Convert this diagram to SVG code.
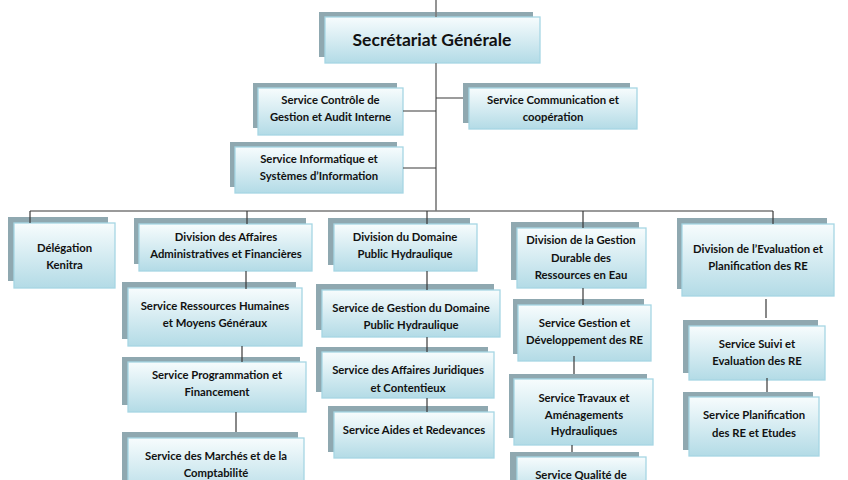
<svg xmlns="http://www.w3.org/2000/svg" width="848" height="480" viewBox="0 0 848 480">
<defs>
<linearGradient id="g" x1="0" y1="0" x2="0" y2="1">
<stop offset="0" stop-color="#f7fcfd"/>
<stop offset="1" stop-color="#b3dbe6"/>
</linearGradient>
<style>
.sh{fill:#8fa8b0}
.bx{fill:url(#g);stroke:#a6d6e4;stroke-width:1.3}
text{font-family:Lato,"Noto Sans","Liberation Sans",sans-serif;font-weight:bold;font-size:11.3px;fill:#111;text-anchor:middle}
.t{font-size:17.5px}
.c{stroke:#3a3a3a;stroke-width:1.2;fill:none}
.m{stroke:#7a7a7a;stroke-width:1.6;fill:none}
</style>
</defs>
<rect width="848" height="480" fill="#fff"/>
<g id="nodes">
<g id="sg"><rect class="sh" x="319" y="12" width="214" height="45"/><rect class="bx" x="325" y="17" width="215" height="46"/><text class="t" x="432" y="46">Secrétariat Générale</text></g>
<g id="controle"><rect class="sh" x="253" y="83" width="144" height="45"/><rect class="bx" x="258" y="88" width="145" height="47"/><text x="330.5" y="104">Service Contrôle de</text><text x="330.5" y="121">Gestion et Audit Interne</text></g>
<g id="communication"><rect class="sh" x="463" y="83" width="167" height="40"/><rect class="bx" x="469" y="88" width="168" height="41"/><text x="553" y="104">Service Communication et</text><text x="553" y="121">coopération</text></g>
<g id="informatique"><rect class="sh" x="230" y="142" width="167" height="45"/><rect class="bx" x="235" y="147" width="168" height="46"/><text x="319" y="163">Service Informatique et</text><text x="319" y="180">Systèmes d’Information</text></g>
<g id="kenitra"><rect class="sh" x="8" y="217" width="100" height="64"/><rect class="bx" x="14" y="223" width="101" height="65"/><text x="64.5" y="251.5">Délégation</text><text x="64.5" y="268.5">Kenitra</text></g>
<g id="daaf"><rect class="sh" x="134" y="218" width="172" height="46"/><rect class="bx" x="139" y="224" width="173" height="47"/><text x="226" y="241">Division des Affaires</text><text x="226" y="257.5">Administratives et Financières</text></g>
<g id="srh"><rect class="sh" x="122" y="282" width="174" height="57"/><rect class="bx" x="128" y="288" width="174" height="58"/><text x="215" y="310">Service Ressources Humaines</text><text x="215" y="327">et Moyens Généraux</text></g>
<g id="sprog"><rect class="sh" x="122" y="357" width="178" height="48"/><rect class="bx" x="128" y="362" width="178" height="50"/><text x="217" y="378.5">Service Programmation et</text><text x="217" y="395.5">Financement</text></g>
<g id="smarches"><rect class="sh" x="122" y="432" width="176" height="60"/><rect class="bx" x="128" y="438" width="176" height="60"/><text x="216" y="460">Service des Marchés et de la</text><text x="216" y="476.5">Comptabilité</text></g>
<g id="ddph"><rect class="sh" x="328" y="218" width="142" height="47"/><rect class="bx" x="334" y="224" width="143" height="47"/><text x="405" y="241">Division du Domaine</text><text x="405" y="257.5">Public Hydraulique</text></g>
<g id="sgdph"><rect class="sh" x="316" y="284" width="178" height="46"/><rect class="bx" x="322" y="290" width="178" height="47"/><text x="411" y="312">Service de Gestion du Domaine</text><text x="411" y="329">Public Hydraulique</text></g>
<g id="sajc"><rect class="sh" x="316" y="347" width="172" height="45"/><rect class="bx" x="322" y="352" width="172" height="46"/><text x="408" y="374">Service des Affaires Juridiques</text><text x="408" y="391.5">et Contentieux</text></g>
<g id="saides"><rect class="sh" x="328" y="406" width="160" height="46"/><rect class="bx" x="334" y="412" width="160" height="46"/><text x="414" y="434">Service Aides et Redevances</text></g>
<g id="dgdre"><rect class="sh" x="511" y="222" width="128" height="58"/><rect class="bx" x="517" y="228" width="129" height="60"/><text x="581" y="244">Division de la Gestion</text><text x="581" y="261.5">Durable des</text><text x="581" y="278.5">Ressources en Eau</text></g>
<g id="sgdre"><rect class="sh" x="513" y="299" width="131" height="55"/><rect class="bx" x="518" y="305" width="133" height="56"/><text x="584.5" y="327">Service Gestion et</text><text x="584.5" y="343.5">Développement des RE</text></g>
<g id="stravaux"><rect class="sh" x="509" y="374" width="138" height="64"/><rect class="bx" x="514" y="379" width="139" height="66"/><text x="584" y="401.5">Service Travaux et</text><text x="584" y="418.5">Aménagements</text><text x="584" y="435">Hydrauliques</text></g>
<g id="squalite"><rect class="sh" x="510" y="452" width="129" height="40"/><rect class="bx" x="517" y="457" width="129" height="40"/><text x="581" y="478.5">Service Qualité de</text></g>
<g id="devaluation"><rect class="sh" x="677" y="218" width="150" height="71"/><rect class="bx" x="682" y="224" width="152" height="72"/><text x="758" y="252.5">Division de l’Evaluation et</text><text x="758" y="270">Planification des RE</text></g>
<g id="ssuivi"><rect class="sh" x="683" y="320" width="135" height="53"/><rect class="bx" x="689" y="326" width="136" height="54"/><text x="757" y="348">Service Suivi et</text><text x="757" y="365">Evaluation des RE</text></g>
<g id="splanif"><rect class="sh" x="683" y="392" width="130" height="58"/><rect class="bx" x="689" y="397" width="130" height="59"/><text x="754" y="419">Service Planification</text><text x="754" y="436.5">des RE et Etudes</text></g>
</g>
<g id="connectors">
<path class="m" d="M436 0V17M436 63V211M30 211H773"/>
<path class="c" d="M403 111H436M436 98H463M403 168H436"/>
<path class="c" d="M30 211V223M247 211V224M427 211V224M583 211V228M773 211V224"/>
<path class="c" d="M246 271V289M242 346V362M236 412V432"/>
<path class="c" d="M427 271V290M427 337V352M427 398V412"/>
<path class="c" d="M583 288V305M574 356V374M572 445V452"/>
<path class="c" d="M766 299V318M767 378V392"/>
</g>
</svg>
